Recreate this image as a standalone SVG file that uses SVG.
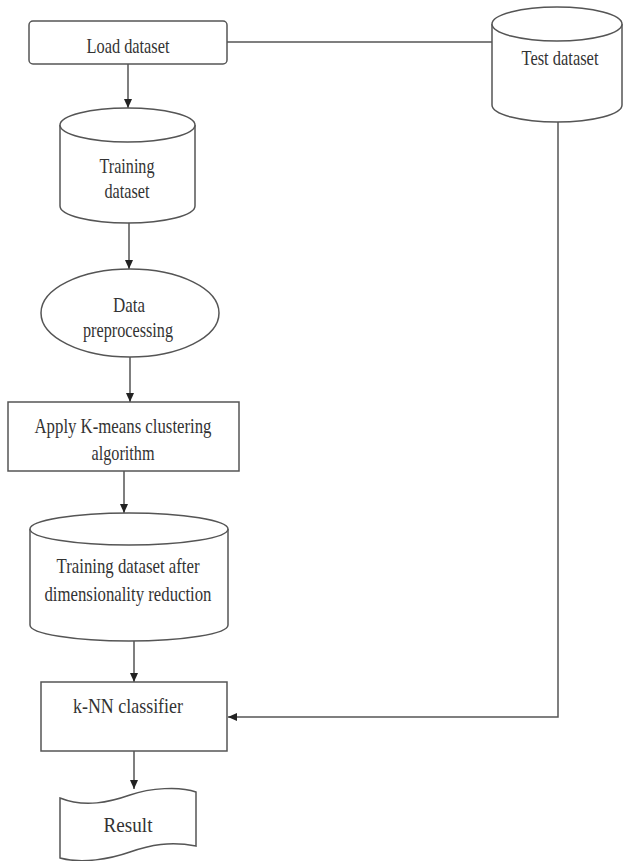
<svg xmlns="http://www.w3.org/2000/svg" width="624" height="861" viewBox="0 0 624 861">
<style>
.s{fill:#fff;stroke:#555;stroke-width:1.5}
.c{fill:none;stroke:#555;stroke-width:1.5}
.t{font-family:"Liberation Serif","Times New Roman",serif;font-size:22px;fill:#333;text-anchor:middle}
</style>
<defs>
<marker id="ah" markerUnits="userSpaceOnUse" markerWidth="9" markerHeight="8" refX="9" refY="4" orient="auto">
<path d="M0,0 L9,4 L0,8 z" fill="#222"/>
</marker>
</defs>
<rect width="624" height="861" fill="#fff"/>
<g id="connectors">
<line class="c" x1="227" y1="42" x2="492" y2="42"/>
<line class="c" x1="128" y1="64" x2="128" y2="108" marker-end="url(#ah)"/>
<line class="c" x1="129" y1="223" x2="129" y2="269" marker-end="url(#ah)"/>
<line class="c" x1="130" y1="357" x2="130" y2="402" marker-end="url(#ah)"/>
<line class="c" x1="124" y1="471" x2="124" y2="513" marker-end="url(#ah)"/>
<line class="c" x1="134" y1="641" x2="134" y2="682" marker-end="url(#ah)"/>
<line class="c" x1="134" y1="751" x2="134" y2="789" marker-end="url(#ah)"/>
<polyline class="c" points="558,122 558,717 228,717" marker-end="url(#ah)"/>
</g>
<g id="load">
<rect class="s" x="29" y="21" width="198" height="43" rx="4"/>
<text class="t" x="128" y="53" textLength="83" lengthAdjust="spacingAndGlyphs">Load dataset</text>
</g>
<g id="test">
<path class="s" d="M492,24 L492,105 A65,17 0 0 0 622,105 L622,24"/>
<ellipse class="s" cx="557" cy="24" rx="65" ry="17"/>
<text class="t" x="560" y="65" textLength="77" lengthAdjust="spacingAndGlyphs">Test dataset</text>
</g>
<g id="training">
<path class="s" d="M60,125 L60,206 A67.5,17 0 0 0 195,206 L195,125"/>
<ellipse class="s" cx="127.5" cy="125" rx="67.5" ry="17"/>
<text class="t" x="127" y="173" textLength="55" lengthAdjust="spacingAndGlyphs">Training</text>
<text class="t" x="127" y="198" textLength="45" lengthAdjust="spacingAndGlyphs">dataset</text>
</g>
<g id="preprocessing">
<ellipse class="s" cx="130" cy="313" rx="89" ry="44"/>
<text class="t" x="129" y="312" textLength="32" lengthAdjust="spacingAndGlyphs">Data</text>
<text class="t" x="128" y="337" textLength="90" lengthAdjust="spacingAndGlyphs">preprocessing</text>
</g>
<g id="kmeans">
<rect class="s" x="8" y="402" width="231" height="69"/>
<text class="t" x="123" y="433" textLength="177" lengthAdjust="spacingAndGlyphs">Apply K-means clustering</text>
<text class="t" x="123" y="460" textLength="63" lengthAdjust="spacingAndGlyphs">algorithm</text>
</g>
<g id="reduced">
<path class="s" d="M30,529 L30,625 A99,16 0 0 0 228,625 L228,529"/>
<ellipse class="s" cx="129" cy="529" rx="99" ry="16"/>
<text class="t" x="128" y="573" textLength="143" lengthAdjust="spacingAndGlyphs">Training dataset after</text>
<text class="t" x="128" y="601" textLength="167" lengthAdjust="spacingAndGlyphs">dimensionality reduction</text>
</g>
<g id="knn">
<rect class="s" x="41" y="682" width="186" height="69"/>
<text class="t" x="128" y="713" textLength="110" lengthAdjust="spacingAndGlyphs">k-NN classifier</text>
</g>
<g id="result">
<path class="s" d="M60,798 C85,808 110,802 130,795 S180,786 196,792 L196,846 C170,841 150,845 130,852 S82,864 60,858 Z"/>
<text class="t" x="128" y="832" textLength="49" lengthAdjust="spacingAndGlyphs">Result</text>
</g>
</svg>
